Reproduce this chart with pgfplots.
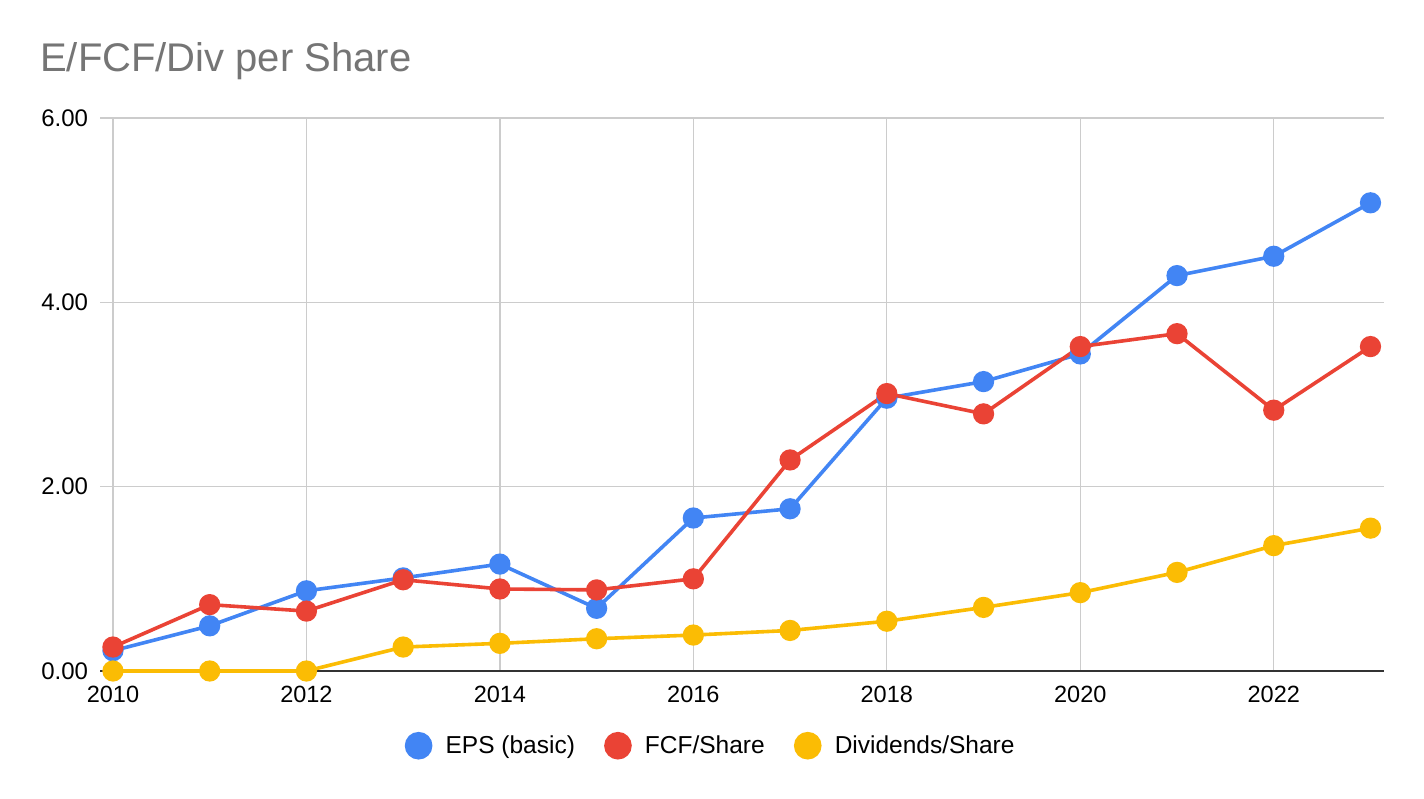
\documentclass[border=0pt]{standalone}
\usepackage{pgfplots}
\pgfplotsset{compat=1.18}
\usepackage{fontspec}
\setmainfont{Liberation Sans}
\definecolor{cblue}{HTML}{4285F4}
\definecolor{cred}{HTML}{EA4335}
\definecolor{cyellow}{HTML}{FBBC04}
\definecolor{titlegray}{HTML}{757575}
\definecolor{gridgray}{HTML}{CCCCCC}
\definecolor{axisdark}{HTML}{333333}
\begin{document}
\begin{tikzpicture}[x=1pt,y=1pt]
\fill[white] (0,0) rectangle (1424,798);
\node[anchor=base west, text=titlegray, inner sep=0pt, font=\fontsize{40}{45}\selectfont] at (40,726) {E/FCF/Div per Share};
\begin{axis}[
  at={(100pt,127pt)}, anchor=south west,
  width=1284pt, height=553pt, scale only axis,
  xmin=2009.866, xmax=2023.14, ymin=0, ymax=6,
  axis line style={draw=none},
  xtick={2010,2012,...,2022}, ytick={0,2,4,6},
  major tick length=0pt,
  grid=major, major grid style={color=gridgray, line width=1.3pt},
  ymajorgrids=false,
  xticklabel style={/pgf/number format/1000 sep={}, font=\fontsize{23.5}{28}\selectfont, yshift=-12pt},
  yticklabel style={/pgf/number format/.cd, fixed, fixed zerofill, precision=2, /tikz/.cd, font=\fontsize{24}{28}\selectfont, xshift=-8.5pt},
  /pgf/number format/assume math mode=true,
  clip=false,
  legend style={at={(0.4759,-0.1351)}, anchor=center, draw=none, fill=none,
    legend columns=3, font=\fontsize{24.5}{29}\selectfont,
    /tikz/every odd column/.append style={column sep=14pt},
    /tikz/every even column/.append style={column sep=30pt},
    nodes={inner sep=1pt}},
  legend image code/.code={\path[#1, mark size=12pt] plot coordinates {(0pt,0pt)};},
  every axis plot/.append style={line width=3.6pt, mark=*, mark size=8.8pt},
]
% horizontal gridlines
\addplot[color=gridgray, line width=1.3pt, mark=none, forget plot] coordinates {(2009.866,2) (2023.14,2)};
\addplot[color=gridgray, line width=1.3pt, mark=none, forget plot] coordinates {(2009.866,4) (2023.14,4)};
\addplot[color=gridgray, line width=1.3pt, mark=none, forget plot] coordinates {(2009.866,6) (2023.14,6)};
\addplot[color=axisdark, line width=2pt, mark=none, forget plot] coordinates {(2009.866,0) (2023.14,0)};
\addplot[color=cblue, mark options={draw=none, fill=cblue}] coordinates {
(2010,0.22) (2011,0.49) (2012,0.87) (2013,1.01) (2014,1.16) (2015,0.68) (2016,1.66)
(2017,1.76) (2018,2.96) (2019,3.14) (2020,3.44) (2021,4.29) (2022,4.50) (2023,5.08)};
\addlegendentry{EPS (basic)}
\addplot[color=cred, mark options={draw=none, fill=cred}] coordinates {
(2010,0.26) (2011,0.72) (2012,0.65) (2013,0.99) (2014,0.89) (2015,0.88) (2016,1.00)
(2017,2.29) (2018,3.01) (2019,2.79) (2020,3.52) (2021,3.66) (2022,2.83) (2023,3.52)};
\addlegendentry{FCF/Share}
\addplot[color=cyellow, mark options={draw=none, fill=cyellow}] coordinates {
(2010,0) (2011,0) (2012,0) (2013,0.26) (2014,0.30) (2015,0.35) (2016,0.39)
(2017,0.44) (2018,0.54) (2019,0.69) (2020,0.85) (2021,1.07) (2022,1.36) (2023,1.55)};
\addlegendentry{Dividends/Share}
\end{axis}
\end{tikzpicture}
\end{document}
